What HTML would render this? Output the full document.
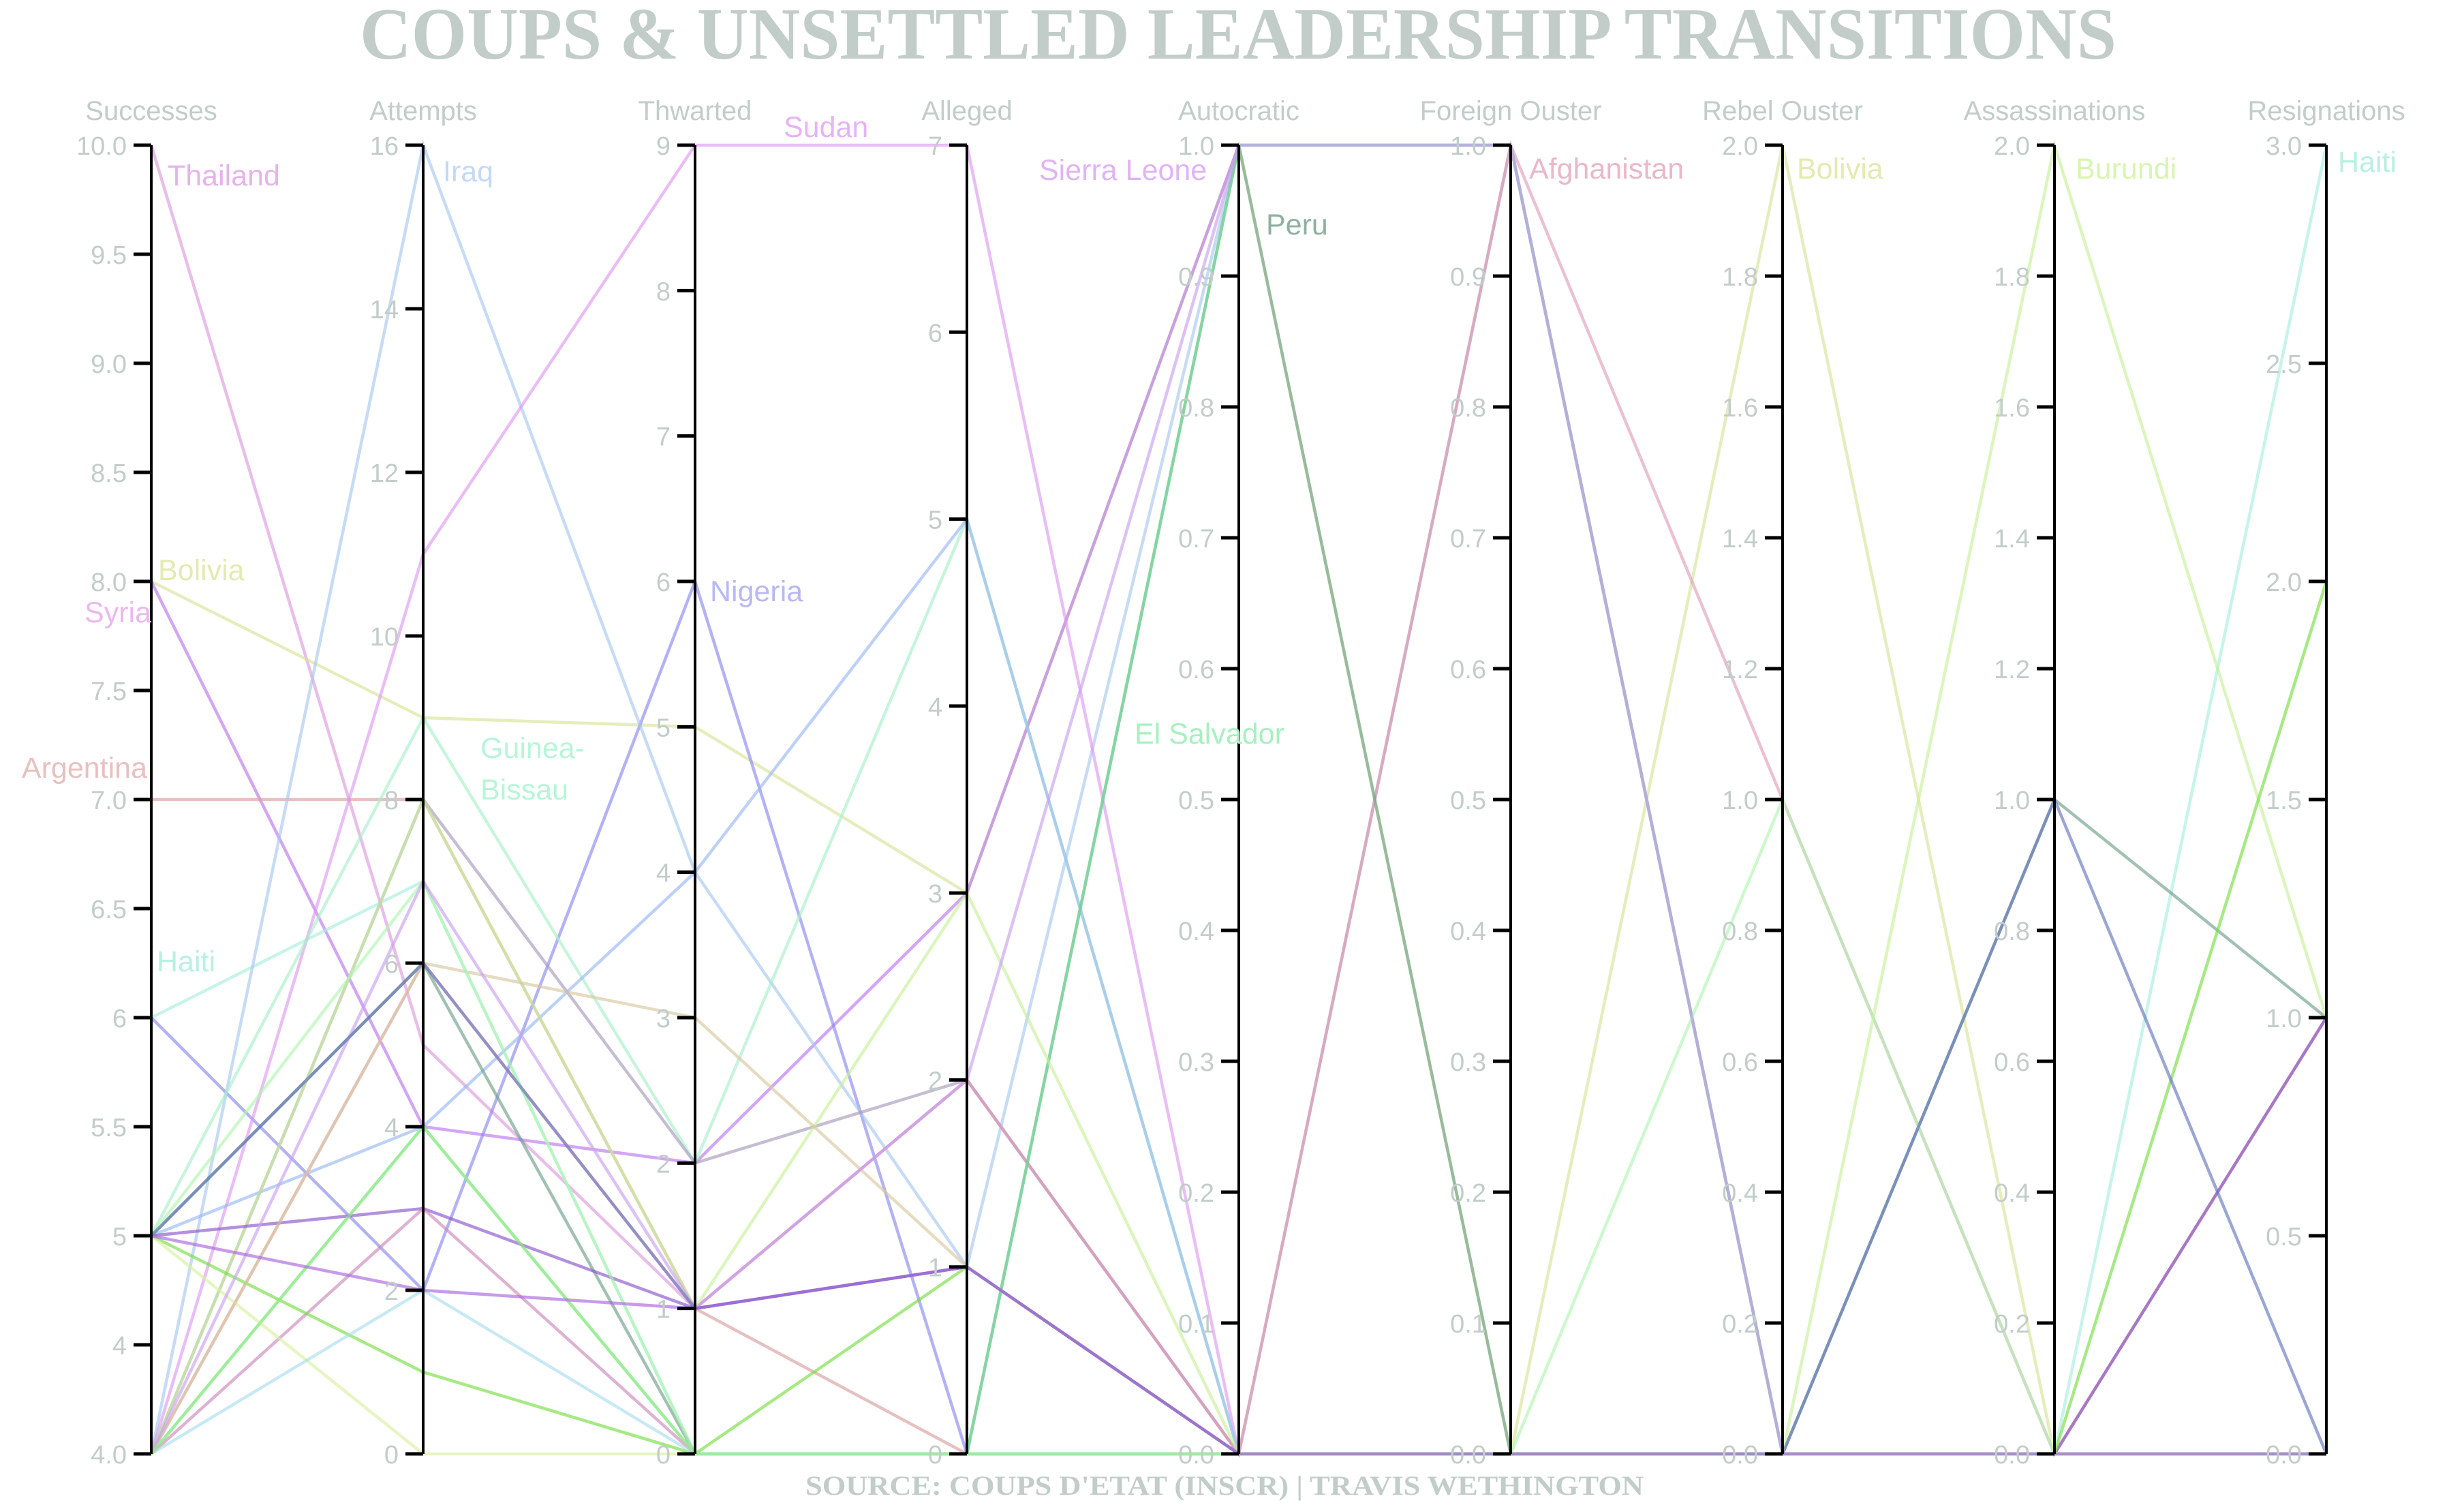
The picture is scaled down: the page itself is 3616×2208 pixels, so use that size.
<!DOCTYPE html>
<html><head><meta charset="utf-8"><style>
html,body{margin:0;padding:0;background:#fff;}
svg{display:block;}
</style></head><body>
<svg id="chart" width="3616" height="2208" viewBox="0 0 3616 2208" xmlns="http://www.w3.org/2000/svg">
<text x="1817" y="86" text-anchor="middle" font-family="Liberation Serif, serif" font-weight="bold" font-size="108" fill="#c2cdca" textLength="2578" lengthAdjust="spacingAndGlyphs">COUPS &amp; UNSETTLED LEADERSHIP TRANSITIONS</text>
<text x="1797" y="2193" text-anchor="middle" font-family="Liberation Serif, serif" font-weight="bold" font-size="40" fill="#c2cdca" textLength="1230" lengthAdjust="spacingAndGlyphs">SOURCE: COUPS D'ETAT (INSCR) | TRAVIS WETHINGTON</text>
<g id="lines"></g>
<g id="axes"></g>
<g id="labels"></g>
</svg>
<script>
const dimensions = ["Successes","Attempts","Thwarted","Alleged","Autocratic","Foreign Ouster","Rebel Ouster","Assassinations","Resignations"];
const domainMin = [4,0,0,0,0,0,0,0,0];
const domainMax = [10,16,9,7,1,1,2,2,3];
const tickValues = [
 [4,4.5,5,5.5,6,6.5,7,7.5,8,8.5,9,9.5,10],
 [0,2,4,6,8,10,12,14,16],
 [0,1,2,3,4,5,6,7,8,9],
 [0,1,2,3,4,5,6,7],
 [0,0.1,0.2,0.3,0.4,0.5,0.6,0.7,0.8,0.9,1],
 [0,0.1,0.2,0.3,0.4,0.5,0.6,0.7,0.8,0.9,1],
 [0,0.2,0.4,0.6,0.8,1,1.2,1.4,1.6,1.8,2],
 [0,0.2,0.4,0.6,0.8,1,1.2,1.4,1.6,1.8,2],
 [0,0.5,1,1.5,2,2.5,3]
];
const tickLabels = [
 ["4.0","4","5","5.5","6","6.5","7.0","7.5","8.0","8.5","9.0","9.5","10.0"],
 ["0","2","4","6","8","10","12","14","16"],
 ["0","1","2","3","4","5","6","7","8","9"],
 ["0","1","2","3","4","5","6","7"],
 ["0.0","0.1","0.2","0.3","0.4","0.5","0.6","0.7","0.8","0.9","1.0"],
 ["0.0","0.1","0.2","0.3","0.4","0.5","0.6","0.7","0.8","0.9","1.0"],
 ["0.0","0.2","0.4","0.6","0.8","1.0","1.2","1.4","1.6","1.8","2.0"],
 ["0.0","0.2","0.4","0.6","0.8","1.0","1.2","1.4","1.6","1.8","2.0"],
 ["0.0","0.5","1.0","1.5","2.0","2.5","3.0"]
];
const countries = ["Thailand","Bolivia","Syria","Argentina","Haiti","Nigeria","Iraq","Sudan","Guinea-Bissau","Country J","Country K","Afghanistan","Peru","El Salvador","Burundi","Country P","Country R","Country S","Country T","Country U","Country V","Country W","Sierra Leone","Country Y","Country Z","Country Q"];
const seriesValues = [
 [10,5,1,2,0,0,0,0,0],
 [8,9,5,3,1,0,2,0,1],
 [8,4,2,3,1,1,0,0,0],
 [7,8,1,0,0,0,0,0,0],
 [6,7,0,0,0,0,0,0,3],
 [6,2,6,0,0,0,0,0,0],
 [4,16,4,1,1,1,0,0,0],
 [4,11,9,7,0,0,0,0,0],
 [5,9,2,5,0,0,0,0,0],
 [5,4,4,5,0,0,0,0,0],
 [4,8,2,2,0,1,0,0,0],
 [4,6,1,2,0,1,1,0,1],
 [5,6,0,0,1,0,0,1,1],
 [4,4,0,0,1,1,0,0,0],
 [4,8,1,3,0,0,0,2,1],
 [5,3,1,1,0,0,0,0,1],
 [4,3,0,0,0,0,0,0,0],
 [5,1,0,1,0,0,0,0,2],
 [5,0,0,0,0,0,0,0,0],
 [4,6,3,1,0,0,0,0,0],
 [5,7,0,0,0,0,1,0,0],
 [4,2,0,0,0,0,0,0,0],
 [4,7,1,2,1,1,0,0,0],
 [5,6,1,1,0,0,0,1,0],
 [4,4,0,0,0,0,0,0,0],
 [5,2,1,1,0,0,0,0,0]
];
const seriesColors = ["#dd99dd","#d9e39a","#bb77ee","#d9a0a0","#a8eedd","#8888ee","#a8c8f0","#dd99f0","#a8f0c8","#99b8f5","#a899bb","#e0a0b8","#6f9f88","#77e099","#c8f09a","#8855cc","#cc88bb","#77dd44","#d8f0a0","#d8c8a0","#b0f5b0","#aaddee","#c9a0f0","#6677bb","#99ee88","#aa66dd"];

const NS = "http://www.w3.org/2000/svg";
const axisX0 = 222, axisStep = 399, yTop = 213, yBot = 2133;
function xPos(i){ return axisX0 + i*axisStep; }
function yPos(i, v){ return yBot - (v - domainMin[i])/(domainMax[i]-domainMin[i])*(yBot-yTop); }

const gLines = document.getElementById('lines');
seriesValues.forEach((vals, k) => {
  const p = document.createElementNS(NS, 'polyline');
  p.setAttribute('points', vals.map((v,i)=> xPos(i)+','+yPos(i,v).toFixed(1)).join(' '));
  p.setAttribute('fill','none');
  p.setAttribute('stroke', seriesColors[k]);
  p.setAttribute('stroke-width','4.5');
  p.setAttribute('stroke-opacity','0.65');
  
  
  gLines.appendChild(p);
});

const gAxes = document.getElementById('axes');
dimensions.forEach((d, i) => {
  const x = xPos(i);
  const g = document.createElementNS(NS, 'g');
  
  
  const line = document.createElementNS(NS, 'line');
  line.setAttribute('x1', x); line.setAttribute('x2', x);
  line.setAttribute('y1', yTop); line.setAttribute('y2', yBot);
  line.setAttribute('stroke', '#000'); line.setAttribute('stroke-width', '4');
  g.appendChild(line);
  tickValues[i].forEach((tv, j) => {
    const y = yPos(i, tv);
    const t = document.createElementNS(NS, 'line');
    t.setAttribute('x1', x - 26); t.setAttribute('x2', x);
    t.setAttribute('y1', y); t.setAttribute('y2', y);
    t.setAttribute('stroke', '#000'); t.setAttribute('stroke-width', '5');
    g.appendChild(t);
    const tl = document.createElementNS(NS, 'text');
    tl.setAttribute('x', x - 36); tl.setAttribute('y', y + 14);
    tl.setAttribute('text-anchor', 'end');
    tl.setAttribute('font-family', 'Liberation Sans, sans-serif');
    tl.setAttribute('font-size', '38');
    tl.setAttribute('fill', '#c2cdca');
    
    
    tl.textContent = tickLabels[i][j];
    g.appendChild(tl);
  });
  const title = document.createElementNS(NS, 'text');
  title.setAttribute('x', x); title.setAttribute('y', 176);
  title.setAttribute('text-anchor', 'middle');
  title.setAttribute('font-family', 'Liberation Sans, sans-serif');
  title.setAttribute('font-size', '40');
  title.setAttribute('fill', '#c2cdca');
  
  
  title.textContent = d;
  g.appendChild(title);
  gAxes.appendChild(g);
});

const labelTexts = ["Thailand","Iraq","Sudan","Sierra Leone","Peru","Afghanistan","Bolivia","Burundi","Haiti","El Salvador","Bolivia","Syria","Argentina","Haiti","Guinea-","Bissau","Nigeria"];
const labelColors = ["#e6b3ec","#c4d9f5","#e6b3f5","#e0b3f5","#8fb0a0","#e8b8c8","#e3ebb0","#d8f5b0","#b8f0e0","#a8f0c0","#e3ebb0","#eab8f0","#e8c0c0","#b8f0e0","#b8f5d8","#b8f5d8","#b8b8f5"];
const labelPos = [[246,272,'start'],[650,266,'start'],[1150,201,'start'],[1525,264,'start'],[1858,344,'start'],[2244,262,'start'],[2637,262,'start'],[3046,262,'start'],[3431,252,'start'],[1665,1091,'start'],[232,851,'start'],[222,913,'end'],[216,1141,'end'],[230,1425,'start'],[705,1112,'start'],[705,1173,'start'],[1042,882,'start']];
const gLab = document.getElementById('labels');
labelTexts.forEach((t, k) => {
  const el = document.createElementNS(NS, 'text');
  el.setAttribute('x', labelPos[k][0]); el.setAttribute('y', labelPos[k][1]);
  el.setAttribute('text-anchor', labelPos[k][2]);
  el.setAttribute('font-family', 'Liberation Sans, sans-serif');
  el.setAttribute('font-size', '43');
  el.setAttribute('fill', labelColors[k]);
  
  
  el.textContent = t;
  gLab.appendChild(el);
});
</script>
</body></html>
